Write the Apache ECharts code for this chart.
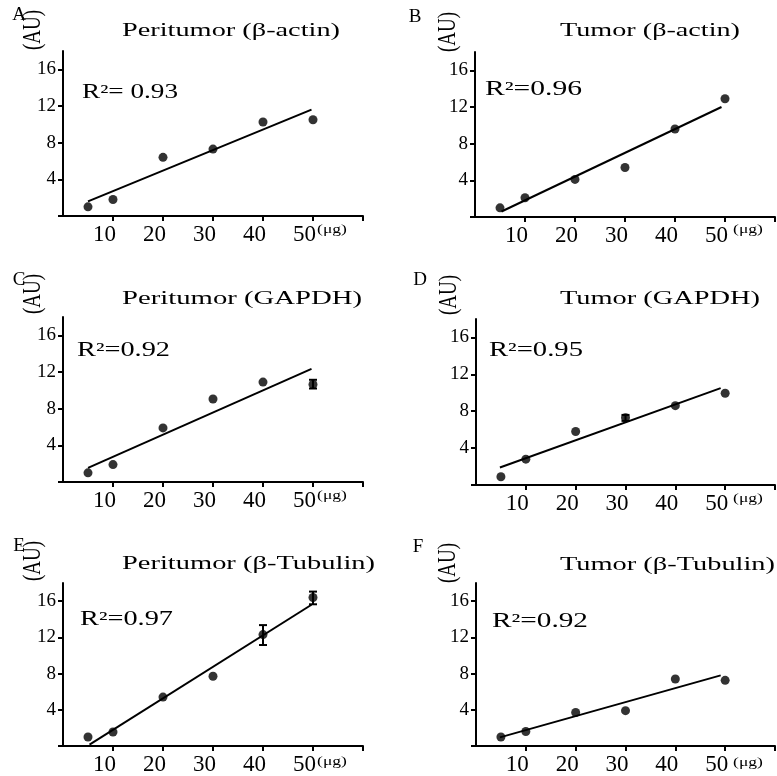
<!DOCTYPE html>
<html><head><meta charset="utf-8">
<script src="https://cdn.jsdelivr.net/npm/echarts@6/dist/echarts.min.js"></script>
<style>html,body{margin:0;padding:0;background:#fff}#c{width:777px;height:776px}</style>
</head><body><div id="c"></div>
<script>
const doses = [5, 10, 20, 30, 40, 50];
const xTickVals = [10, 20, 30, 40, 50, 60];
const xLabelVals = [10, 20, 30, 40, 50];
const yTickVals = [0, 4, 8, 12, 16];
const yLabelVals = [4, 8, 12, 16];

const titles = ['Peritumor (β-actin)', 'Tumor (β-actin)', 'Peritumor (GAPDH)', 'Tumor (GAPDH)', 'Peritumor (β-Tubulin)', 'Tumor (β-Tubulin)'];
const letters = ['A', 'B', 'C', 'D', 'E', 'F'];
const r2Labels = ['R²= 0.93', 'R²=0.96', 'R²=0.92', 'R²=0.95', 'R²=0.97', 'R²=0.92'];

const aVals = [1.0, 1.8, 6.4, 7.3, 10.25, 10.5];
const bVals = [1.0, 2.1, 4.1, 5.4, 9.6, 12.9];
const cVals = [1.0, 1.9, 5.9, 9.05, 10.9, 10.65];
const dVals = [0.9, 2.8, 5.8, 7.3, 8.6, 9.95];
const eVals = [1.0, 1.55, 5.4, 7.7, 12.3, 16.4];
const fVals = [1.0, 1.6, 3.7, 3.9, 7.4, 7.25];

const aFit = [[5, 1.6], [49.7, 11.6]];
const bFit = [[5.3, 0.6], [49.3, 12.0]];
const cFit = [[5, 1.55], [49.7, 12.35]];
const dFit = [[4.8, 1.9], [49.1, 10.5]];
const eFit = [[5.3, 0.15], [49.7, 15.6]];
const fFit = [[4.8, 0.95], [49.1, 7.8]];

const aErr = [];
const bErr = [];
const cErr = [[50, 10.2, 11.15]];
const dErr = [[30, 6.95, 7.6]];
const eErr = [[40, 11.15, 13.35], [50, 15.65, 17.05]];
const fErr = [];

const panelVals = [aVals, bVals, cVals, dVals, eVals, fVals];
const panelFits = [aFit, bFit, cFit, dFit, eFit, fFit];
const panelErrs = [aErr, bErr, cErr, dErr, eErr, fErr];

// layout
const grids = [
  {left: 63, top: 51, width: 300, height: 165},
  {left: 475, top: 52, width: 300, height: 165},
  {left: 63, top: 317, width: 300, height: 165},
  {left: 476, top: 319, width: 299, height: 166},
  {left: 63, top: 583, width: 300, height: 166},
  {left: 476, top: 583, width: 299, height: 166}
];
// [left, centerY, targetWidth]
const titleBox = [[122, 31, 218], [560, 31, 180], [122, 299, 240], [560, 299, 200], [122, 564, 253], [560, 565, 215]];
const letterPos = [[19, 15], [415, 17], [19, 280], [420, 280], [19, 546], [418, 547]];
const auPos = [[34, 30], [449, 32], [34, 294], [450, 295], [34, 561], [449, 563]];
const r2Box = [[82, 93, 96], [485, 90, 97], [77, 351, 93], [489, 351, 94], [80, 620, 93], [492, 622, 96]];
const ugPos = [[332, 230], [748, 230], [332, 496], [748, 499], [332, 762], [748, 763]];

const FONT = '"Liberation Serif", "Times New Roman", serif';
const TITLE_FONT = '18.5px ' + FONT;
const R2_FONT = '20px ' + FONT;

const mctx = document.createElement('canvas').getContext('2d');
function textW(t, font) { mctx.font = font; return mctx.measureText(t).width; }

const option = {
  animation: false,
  backgroundColor: '#fff',
  grid: grids,
  xAxis: grids.map((g, i) => ({
    type: 'value', gridIndex: i, min: 0, max: 60,
    axisLine: {show: true, onZero: false, lineStyle: {color: '#000', width: 2}},
    axisTick: {show: true, length: 5, lineStyle: {color: '#000', width: 2}, customValues: xTickVals},
    axisLabel: {
      customValues: xLabelVals, margin: 7,
      formatter: v => '{a|' + v + '}',
      rich: {a: {fontFamily: FONT, fontSize: 23, color: '#000', padding: [0, 17, 0, 0]}}
    },
    splitLine: {show: false}
  })),
  yAxis: grids.map((g, i) => ({
    type: 'value', gridIndex: i, min: 0, max: 18,
    axisLine: {show: true, onZero: false, lineStyle: {color: '#000', width: 2}},
    axisTick: {show: true, length: 5, lineStyle: {color: '#000', width: 2}, customValues: yTickVals},
    axisLabel: {customValues: yLabelVals, fontFamily: FONT, fontSize: 19, color: '#000', margin: 7},
    splitLine: {show: false}
  })),
  series: [],
  graphic: []
};

panelVals.forEach((vals, i) => {
  option.series.push({
    type: 'line', xAxisIndex: i, yAxisIndex: i, data: panelFits[i],
    showSymbol: false, symbol: 'none', lineStyle: {color: '#000', width: 2}, z: 3
  });
  option.series.push({
    type: 'scatter', xAxisIndex: i, yAxisIndex: i,
    data: doses.map((d, k) => [d, vals[k]]),
    symbolSize: 9, itemStyle: {color: '#000'}, z: 4
  });
  if (panelErrs[i].length) {
    option.series.push({
      type: 'custom', xAxisIndex: i, yAxisIndex: i, data: panelErrs[i], z: 5,
      renderItem: function (params, api) {
        const x = api.value(0);
        const lo = api.coord([x, api.value(1)]);
        const hi = api.coord([x, api.value(2)]);
        const w = 4;
        const st = {stroke: '#000', lineWidth: 2};
        return {type: 'group', children: [
          {type: 'line', shape: {x1: lo[0], y1: lo[1], x2: hi[0], y2: hi[1]}, style: st},
          {type: 'line', shape: {x1: lo[0] - w, y1: lo[1], x2: lo[0] + w, y2: lo[1]}, style: st},
          {type: 'line', shape: {x1: hi[0] - w, y1: hi[1], x2: hi[0] + w, y2: hi[1]}, style: st}
        ]};
      }
    });
  }
  const tb = titleBox[i];
  option.graphic.push({
    type: 'text', x: tb[0], y: tb[1], scaleX: tb[2] / textW(titles[i], TITLE_FONT),
    style: {text: titles[i], font: TITLE_FONT, fill: '#000', align: 'left', verticalAlign: 'middle'}
  });
  option.graphic.push({
    type: 'text', x: letterPos[i][0], y: letterPos[i][1],
    style: {text: letters[i], font: '19px ' + FONT, fill: '#000', align: 'center', verticalAlign: 'middle'}
  });
  option.graphic.push({
    type: 'text', x: auPos[i][0], y: auPos[i][1], rotation: Math.PI / 2, scaleY: 1.3,
    style: {text: '(AU)', font: '19px ' + FONT, fill: '#000', align: 'center', verticalAlign: 'middle'}
  });
  const rb = r2Box[i];
  option.graphic.push({
    type: 'text', x: rb[0], y: rb[1], scaleX: rb[2] / textW(r2Labels[i], R2_FONT),
    style: {text: r2Labels[i], font: R2_FONT, fill: '#000', align: 'left', verticalAlign: 'middle'}
  });
  option.graphic.push({
    type: 'text', x: ugPos[i][0], y: ugPos[i][1], scaleX: 1.35,
    style: {text: '(μg)', font: '13px ' + FONT, fill: '#000', align: 'center', verticalAlign: 'middle'}
  });
});

const chart = echarts.init(document.getElementById('c'), null, {renderer: 'canvas'});
chart.setOption(option);
</script></body></html>
